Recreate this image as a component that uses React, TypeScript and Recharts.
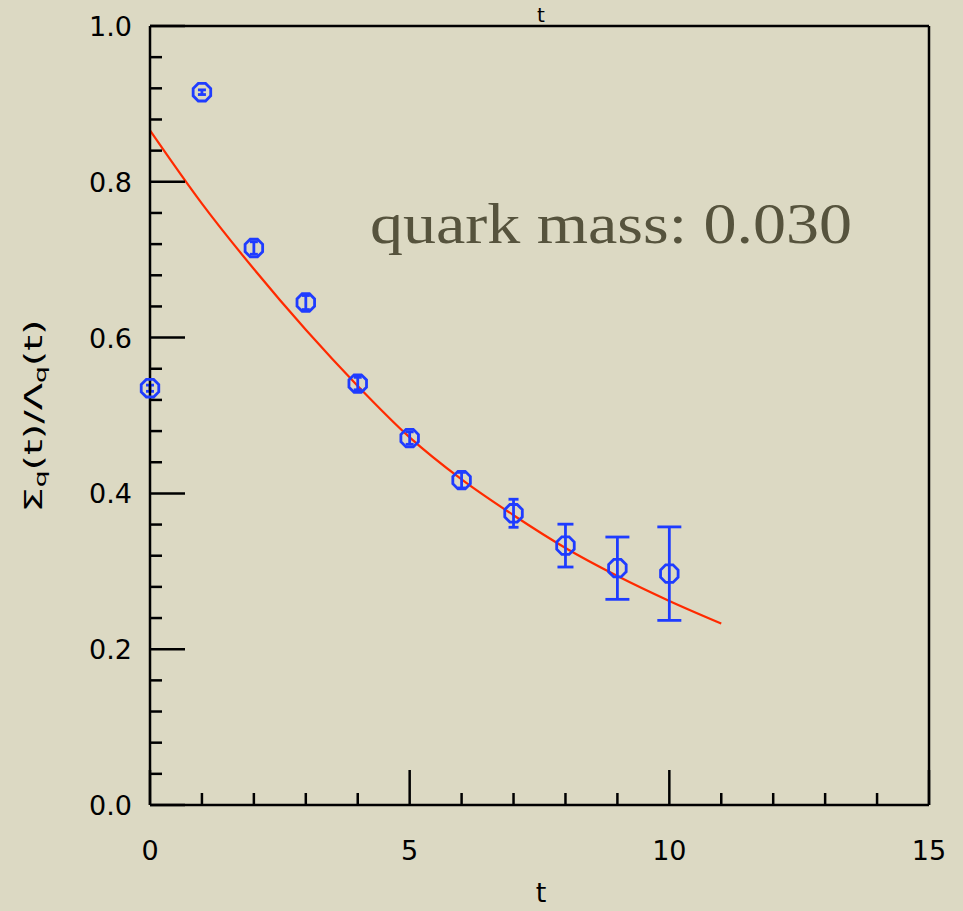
import React from "react";
import {
  ComposedChart,
  Scatter,
  Line,
  XAxis,
  YAxis,
  ErrorBar,
} from "recharts";

// measured points
const tValues = [0, 1, 2, 3, 4, 5, 6, 7, 8, 9, 10];
const ratio = [0.535, 0.915, 0.715, 0.645, 0.541, 0.471, 0.417, 0.3745, 0.333, 0.304, 0.297];
const ratioErr = [0.004, 0.003, 0.008, 0.009, 0.008, 0.008, 0.01, 0.018, 0.0275, 0.04, 0.06];

// fit curve
const fitT = [0, 1, 2, 3, 4, 5, 6, 7, 8, 9, 10, 11];
const fitValues = [0.866, 0.772, 0.688, 0.61, 0.538, 0.472, 0.418, 0.372, 0.33, 0.294, 0.262, 0.233];

const xTicks = [0, 1, 2, 3, 4, 5, 6, 7, 8, 9, 10, 11, 12, 13, 14, 15];
const yTicks = [
  0, 0.04, 0.08, 0.12, 0.16, 0.2, 0.24, 0.28, 0.32, 0.36, 0.4, 0.44, 0.48, 0.52,
  0.56, 0.6, 0.64, 0.68, 0.72, 0.76, 0.8, 0.84, 0.88, 0.92, 0.96, 1.0,
];

const BLUE = "#1f3cff";
const RED = "#ff2a00";
const LABEL_FONT = "'DejaVu Sans', sans-serif";
const AXIS_W = 2.5;

const points = tValues.map((t, i) => ({ t, ratio: ratio[i], err: ratioErr[i] }));
const fitRows = fitT.map((t, i) => ({ t, fit: fitValues[i] }));

const Octagon = (props: any) => {
  const { cx, cy } = props;
  if (cx == null || cy == null) return null;
  const r = 9.5;
  const pts = [0, 1, 2, 3, 4, 5, 6, 7]
    .map((k) => {
      const a = (Math.PI / 8) * (2 * k + 1);
      return `${cx + r * Math.cos(a)},${cy + r * Math.sin(a)}`;
    })
    .join(" ");
  return <polygon points={pts} fill="none" stroke={BLUE} strokeWidth={2.8} />;
};

const BottomTick = (props: any) => {
  const { x, y, payload } = props;
  const major = payload.value % 5 === 0;
  return (
    <g>
      <line x1={x} x2={x} y1={y} y2={y - (major ? 35 : 12)} stroke="#000" strokeWidth={AXIS_W} />
      {major && (
        <text x={x} y={y + 55} textAnchor="middle" fontFamily={LABEL_FONT} fontSize={27} fill="#000">
          {payload.value}
        </text>
      )}
    </g>
  );
};

const TopTick = (props: any) => {
  const { x, y, payload } = props;
  const major = payload.value % 5 === 0;
  return <line x1={x} x2={x} y1={y} y2={y + (major ? 35 : 12)} stroke="#000" strokeWidth={AXIS_W} />;
};

const LeftTick = (props: any) => {
  const { x, y, payload, index } = props;
  const major = index % 5 === 0;
  return (
    <g>
      <line x1={x} x2={x + (major ? 35 : 12)} y1={y} y2={y} stroke="#000" strokeWidth={AXIS_W} />
      {major && (
        <text x={x - 18} y={y + 10} textAnchor="end" fontFamily={LABEL_FONT} fontSize={27} fill="#000">
          {payload.value.toFixed(1)}
        </text>
      )}
    </g>
  );
};

const RightTick = (props: any) => {
  const { x, y, index } = props;
  const major = index % 5 === 0;
  return <line x1={x} x2={x - (major ? 35 : 12)} y1={y} y2={y} stroke="#000" strokeWidth={AXIS_W} />;
};

export default function App() {
  const groups = [
    { rows: points.slice(0, 7), cap: 4 },
    { rows: points.slice(7, 8), cap: 5 },
    { rows: points.slice(8, 9), cap: 8 },
    { rows: points.slice(9), cap: 12 },
  ];
  const axisLine = { stroke: "#000", strokeWidth: AXIS_W };
  return (
    <div style={{ position: "absolute", left: 0, top: 0, width: 963, height: 911, background: "#dcd9c3" }}>
      <ComposedChart width={963} height={911} margin={{ top: 16, right: 24, bottom: 46, left: 90 }}>
        <XAxis
          dataKey="t"
          type="number"
          domain={[0, 15]}
          ticks={xTicks}
          interval={0}
          tick={<BottomTick />}
          tickLine={false}
          tickSize={0}
          tickMargin={0}
          height={60}
          axisLine={axisLine}
        />
        <XAxis
          xAxisId="top"
          dataKey="t"
          orientation="top"
          type="number"
          domain={[0, 15]}
          ticks={xTicks}
          interval={0}
          tick={<TopTick />}
          tickLine={false}
          tickSize={0}
          tickMargin={0}
          height={10}
          axisLine={axisLine}
        />
        <YAxis
          type="number"
          domain={[0, 1]}
          ticks={yTicks}
          interval={0}
          tick={<LeftTick />}
          tickLine={false}
          tickSize={0}
          tickMargin={0}
          width={60}
          axisLine={axisLine}
        />
        <YAxis
          yAxisId="right"
          orientation="right"
          type="number"
          domain={[0, 1]}
          ticks={yTicks}
          interval={0}
          tick={<RightTick />}
          tickLine={false}
          tickSize={0}
          tickMargin={0}
          width={10}
          axisLine={axisLine}
        />
        <Line
          data={fitRows}
          dataKey="fit"
          type="monotone"
          stroke={RED}
          strokeWidth={2.2}
          dot={false}
          activeDot={false}
          isAnimationActive={false}
        />
        {groups.map((g, i) => (
          <Scatter key={i} data={g.rows} dataKey="ratio" shape={Octagon} isAnimationActive={false}>
            <ErrorBar dataKey="err" direction="y" width={g.cap} stroke={BLUE} strokeWidth={2.8} />
          </Scatter>
        ))}
      </ComposedChart>
      <svg
        width={963}
        height={911}
        style={{ position: "absolute", left: 0, top: 0, pointerEvents: "none" }}
      >
        <text x={541} y={22} textAnchor="middle" fontFamily={LABEL_FONT} fontSize={20} fill="#000">
          t
        </text>
        <text x={541} y={902} textAnchor="middle" fontFamily={LABEL_FONT} fontSize={27} fill="#000">
          t
        </text>
        <text
          transform="translate(42 416) rotate(-90)"
          textAnchor="middle"
          fontFamily={LABEL_FONT}
          fontSize={24}
          fill="#000"
          textLength={193}
          lengthAdjust="spacingAndGlyphs"
        >
          Σ<tspan fontSize={16} dy={4}>q</tspan>
          <tspan dy={-4}>(t)/Λ</tspan>
          <tspan fontSize={16} dy={4}>q</tspan>
          <tspan dy={-4}>(t)</tspan>
        </text>
        <text
          x={370}
          y={243}
          fontFamily="'Liberation Serif', serif"
          fontSize={56}
          fill="#56533d"
          textLength={482}
          lengthAdjust="spacingAndGlyphs"
        >
          quark mass: 0.030
        </text>
      </svg>
    </div>
  );
}
